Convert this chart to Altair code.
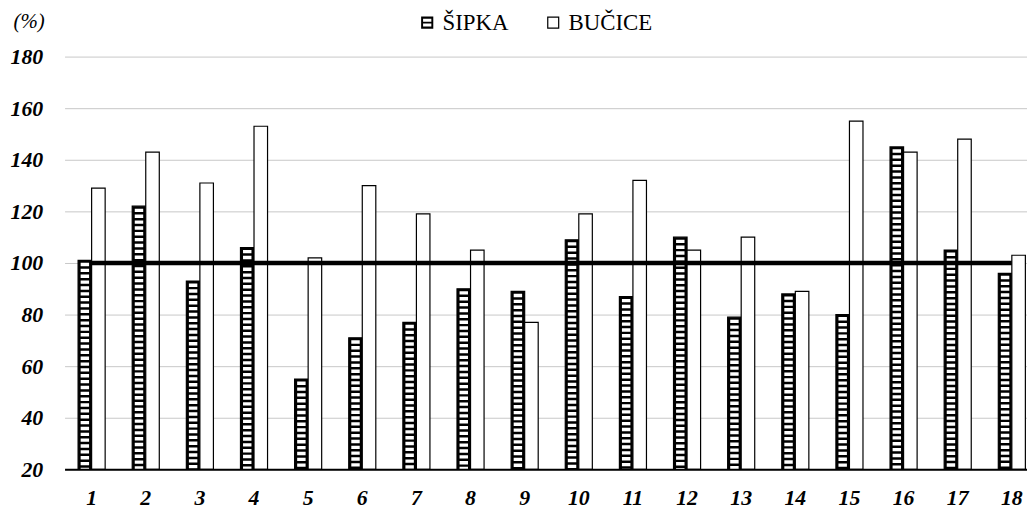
import altair as alt
import pandas as pd

categories = [str(i) for i in range(1, 19)]
series_names = ["ŠIPKA", "BUČICE"]
sipka = [101, 122, 93, 106, 55, 71, 77, 90, 89, 109, 87, 110, 79, 88, 80, 145, 105, 96]
bucice = [129, 143, 131, 153, 102, 130, 119, 105, 77, 119, 132, 105, 110, 89, 155, 143, 148, 103]
y_ticks = [20, 40, 60, 80, 100, 120, 140, 160, 180]
reference_level = 100
y_min, y_max = 20, 180

rows = []
for c, a, b in zip(categories, sipka, bucice):
    rows.append({"cat": c, "series": series_names[0], "value": a})
    rows.append({"cat": c, "series": series_names[1], "value": b})
df = pd.DataFrame(rows)
ref_df = pd.DataFrame({"cat": categories, "ref": [reference_level] * len(categories)})

FONT = "Liberation Serif"
# legend glyphs: black square with two white slots / hollow square outline
hatch_path = ("M-1,-1H1V1H-1Z "
              "M-0.68,-0.64V-0.14H0.68V-0.64Z "
              "M-0.68,0.14V0.64H0.68V0.14Z")
hollow_path = "M-1,-1H1V1H-1Z M-0.8,-0.8V0.8H0.8V-0.8Z"

x_enc = alt.X(
    "cat:N", sort=categories,
    scale=alt.Scale(domain=categories, paddingInner=0.5, paddingOuter=0.25, range=[0, 982]),
    axis=alt.Axis(title=None, labelAngle=0, labelFont=FONT, labelFontSize=22,
                  labelFontWeight="bold", labelFontStyle="italic", labelColor="black",
                  labelPadding=18, ticks=False, domainColor="black", domainWidth=2,
                  grid=False, zindex=1),
)
xoff_enc = alt.XOffset("series:N", sort=series_names,
                       scale=alt.Scale(domain=series_names, paddingInner=0, paddingOuter=0))
y_enc = alt.Y(
    "value:Q",
    scale=alt.Scale(domain=[y_min, y_max], nice=False, zero=False),
    axis=alt.Axis(values=y_ticks, title="(%)", titleAngle=0, titleAlign="left",
                  titleBaseline="middle", titleX=-52, titleY=-35, titleFont=FONT,
                  titleFontStyle="italic", titleFontWeight="normal", titleFontSize=21,
                  titleColor="black",
                  labelFont=FONT, labelFontSize=22, labelFontWeight="bold",
                  labelFontStyle="italic", labelColor="black", labelPadding=22,
                  ticks=False, domain=False, gridColor="#c8c8c8", gridWidth=1),
)

base = alt.Chart(df)

bars = base.mark_bar(stroke="black", strokeWidth=1.2).encode(
    x=x_enc, xOffset=xoff_enc, y=y_enc, y2=alt.datum(y_min),
    fill=alt.condition(alt.datum.series == series_names[0], alt.value("black"), alt.value("white")),
)

stripes = base.transform_filter(alt.datum.series == series_names[0]).mark_rule(
    color="white", strokeWidth=8.5, strokeDash=[3.4, 2.5], strokeDashOffset=3.4, strokeCap="butt"
).encode(x=x_enc, xOffset=xoff_enc, y=alt.Y("value:Q"), y2=alt.datum(y_min))

ref_line = alt.Chart(ref_df).mark_line(color="black", strokeWidth=4.6).encode(
    x=alt.X("cat:N", sort=categories), y=alt.Y("ref:Q")
)

legend_layer = base.transform_filter("false").mark_point(
    filled=True, color="black", size=150, opacity=1
).encode(
    x=alt.X("cat:N", sort=categories), y=alt.Y("value:Q"),
    shape=alt.Shape("series:N", sort=series_names,
                    scale=alt.Scale(domain=series_names, range=[hatch_path, hollow_path]),
                    legend=alt.Legend(title=None, orient="none", legendX=354, legendY=-46,
                                      direction="horizontal", labelFont=FONT, labelFontSize=23,
                                      labelColor="black", symbolSize=150,
                                      symbolFillColor="black", symbolStrokeWidth=0,
                                      symbolOpacity=1, columnPadding=33, labelOffset=4)),
)

chart = alt.layer(bars, stripes, ref_line, legend_layer).properties(
    width=970, height=416,
    padding={"left": 57, "top": 47, "right": 0, "bottom": 40},
    autosize=alt.AutoSizeParams(type="none"),
    background="white",
).configure_view(stroke=None)

chart.save("out.html", embed_options={"renderer": "svg", "actions": False})
